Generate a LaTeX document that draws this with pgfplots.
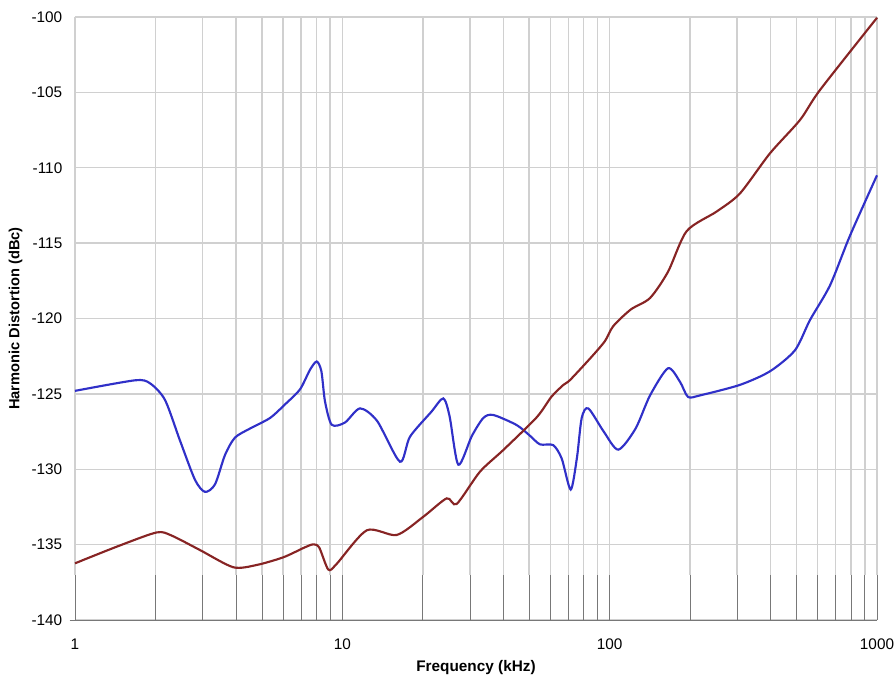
\documentclass[border=0pt]{standalone}
\usepackage{pgfplots}
\pgfplotsset{compat=1.18}
\usepackage{fontspec}
\setmainfont{Liberation Sans}
\definecolor{gridc}{RGB}{208,208,208}
\definecolor{bluec}{RGB}{48,48,200}
\definecolor{redc}{RGB}{135,36,36}
\definecolor{tickc}{RGB}{120,120,120}
\begin{document}
\begin{tikzpicture}
\begin{axis}[
  scale only axis,
  width=601.5pt, height=452.25pt,
  xmode=log, log basis x=10,
  xmin=1, xmax=1000, ymin=-140, ymax=-100,
  axis lines*=left,
  y axis line style={draw=none},
  x axis line style={draw=tickc, line width=0.6pt, shorten <=-4pt},
  xtick={1,10,100,1000},
  xticklabels={1,10,100,1000},
  minor xtick={2,3,4,5,6,7,8,9,20,30,40,50,60,70,80,90,200,300,400,500,600,700,800,900},
  ytick={-140,-135,...,-100},
  tick align=inside,
  major tick length=33.9pt, minor tick length=33.9pt,
  x tick style={draw=tickc, line width=0.45pt},
  y tick style={draw=none},
  ymajorgrids,
  major y grid style={draw=gridc, line width=1.1pt},
  /pgf/number format/assume math mode=true,
  ticklabel style={font=\fontsize{11.5}{13}\selectfont, text=black},
  yticklabel style={xshift=-6pt},
  xticklabel style={yshift=-10.5pt},
  xlabel={\bfseries Frequency (kHz)},
  ylabel={\bfseries Harmonic Distortion (dBc)},
  xlabel style={font=\fontsize{11.5}{13}\selectfont, yshift=-1pt},
  ylabel style={font=\fontsize{11}{12}\selectfont, yshift=0pt},
  clip=false,
]
\pgfplotsinvokeforeach{1,2,3,4,5,6,7,8,9,10,20,30,40,50,60,70,80,90,100,200,300,400,500,600,700,800,900,1000}{
  \draw[gridc, line width=1.1pt] (axis cs:#1,-137) -- (axis cs:#1,-100);
}
\addplot[bluec, line width=1.6pt, smooth, tension=0.45] coordinates {
(1,-124.8) (1.677,-124.1) (1.909,-124.3) (2.171,-125.4) (2.471,-128.1) (2.811,-130.7)
(3.064,-131.5) (3.34,-131.0) (3.641,-129.05) (3.968,-127.9) (4.514,-127.3) (5.363,-126.6)
(6.103,-125.7) (6.945,-124.7) (7.57,-123.4) (8.02,-122.85) (8.35,-123.5) (8.614,-125.5)
(9.127,-127.05) (10.23,-126.9) (11.65,-125.96) (13.5,-126.8) (16.43,-129.5) (17.91,-127.84)
(21.5,-126.2) (23.86,-125.3) (25.2,-126.5) (27.16,-129.7) (30.5,-127.8) (33.68,-126.6)
(36.71,-126.4) (44.91,-127.07) (50.5,-127.8) (54.9,-128.35) (61.5,-128.4) (66.2,-129.3)
(71.5,-131.35) (75.5,-129.2) (78.6,-126.6) (83.2,-125.96) (95,-127.5) (107.7,-128.7)
(125,-127.3) (141.6,-125.1) (165.3,-123.3) (183.3,-124.2) (196.4,-125.2) (217.8,-125.1)
(307.3,-124.4) (398,-123.5) (493.6,-122.1) (561.5,-120.1) (667.3,-117.8) (792.7,-114.5) (1000,-110.5)
};
\addplot[redc, line width=1.6pt, smooth, tension=0.45] coordinates {
(1,-136.24) (1.45,-135.1) (2.021,-134.19) (2.3,-134.4) (2.935,-135.36) (3.91,-136.5)
(4.783,-136.35) (6.016,-135.84) (7.2,-135.2) (7.789,-134.98) (8.2,-135.2) (8.86,-136.65)
(9.5,-136.3) (12.34,-134.05) (15.97,-134.36) (20.09,-133.15) (24.57,-131.93) (26.78,-132.3)
(32.73,-130.16) (40.02,-128.72) (53.36,-126.55) (60.5,-125.2) (67.08,-124.41) (71.1,-124.08)
(85,-122.6) (96,-121.5) (103.2,-120.5) (120,-119.4) (141.6,-118.64) (165.3,-116.9)
(194.2,-114.2) (251.5,-112.9) (307.3,-111.7) (398,-109.04) (515.2,-106.83) (612.2,-104.84) (1000,-100.05)
};
\coordinate (bbl) at (rel axis cs:-0.0935,-0.1012);
\coordinate (btr) at (rel axis cs:1.0237,1.0282);
\end{axis}
\pgfresetboundingbox
\path (bbl) rectangle (btr);
\end{tikzpicture}
\end{document}
